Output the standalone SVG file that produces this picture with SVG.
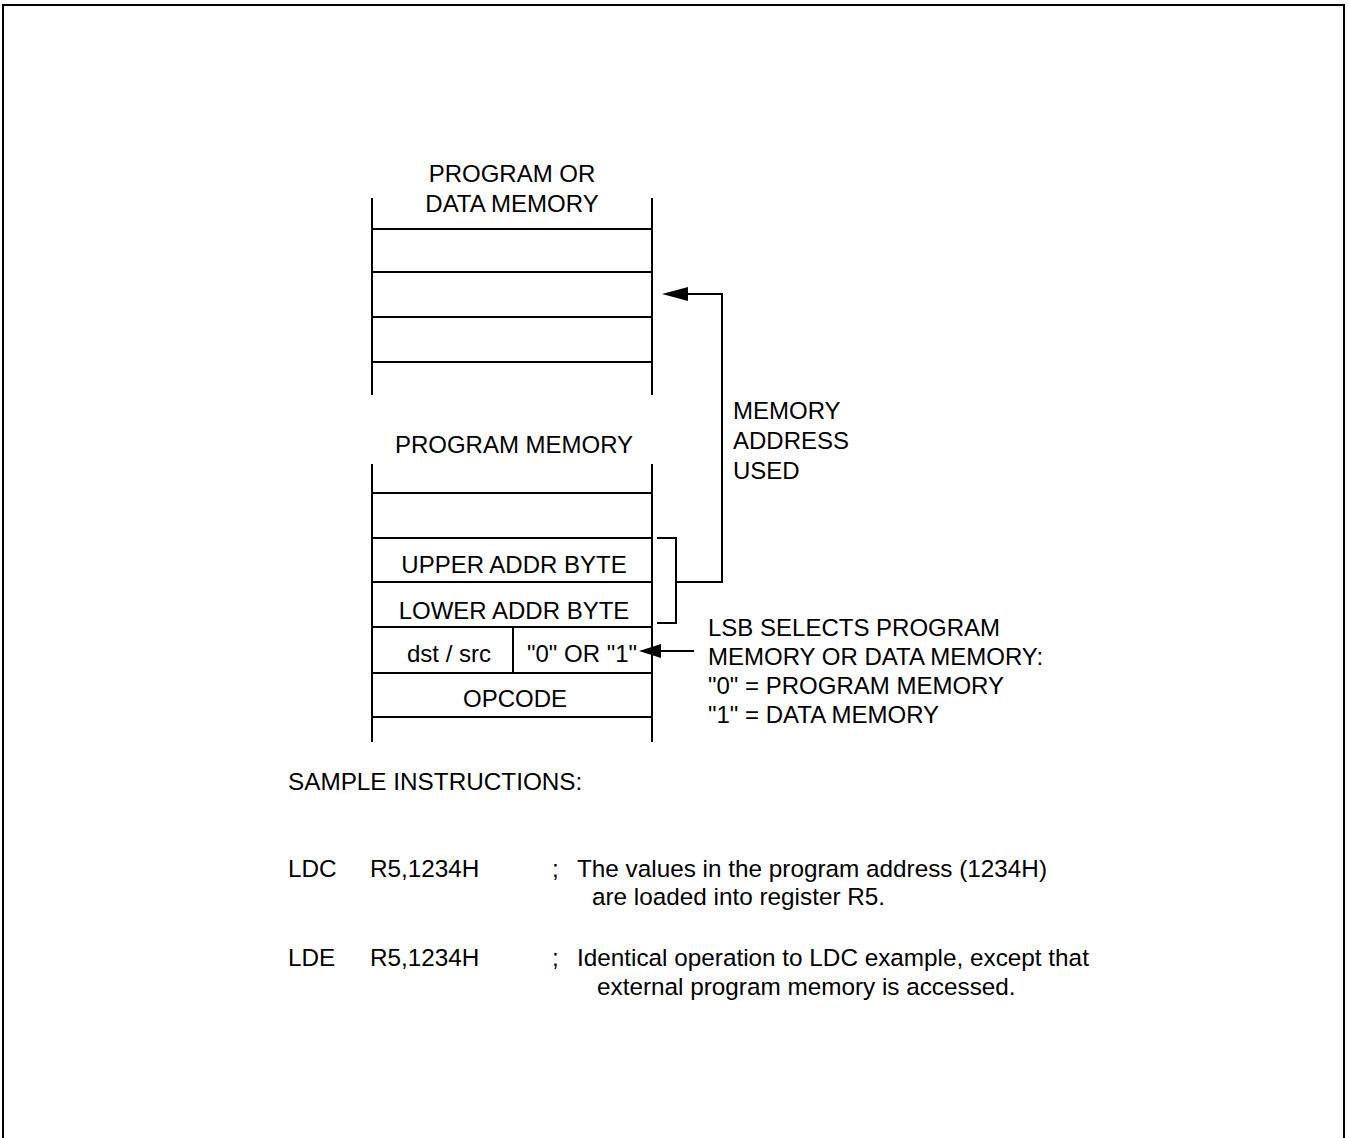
<svg xmlns="http://www.w3.org/2000/svg" width="1348" height="1138" viewBox="0 0 1348 1138">
<style>
.ln{stroke:#000;stroke-width:2;fill:none}
.t{font-family:"Liberation Sans",Arial,sans-serif;font-size:24px;fill:#000}
.s{font-size:24.3px}
.c{text-anchor:middle}
</style>
<rect x="0" y="0" width="1348" height="1138" fill="#fff"/>
<g id="frame">
<path class="ln" d="M3,1138 V5 H1344 V1138"/>
</g>
<g id="data-memory">
<text class="t c" x="512" y="182">PROGRAM OR</text>
<text class="t c" x="512" y="212">DATA MEMORY</text>
<path class="ln" d="M372,198 V395 M652,198 V395 M372,229 H652 M372,272 H652 M372,317 H652 M372,362 H652"/>
</g>
<g id="program-memory">
<text class="t c" x="514" y="453">PROGRAM MEMORY</text>
<path class="ln" d="M372,464 V742 M652,464 V742 M372,493 H652 M372,538 H652 M372,582 H652 M372,627 H652 M372,673 H652 M372,717 H652 M513,627 V673"/>
<text class="t c" x="514" y="573">UPPER ADDR BYTE</text>
<text class="t c" x="514" y="619">LOWER ADDR BYTE</text>
<text class="t c" x="449" y="662">dst / src</text>
<text class="t c" x="582" y="662">"0" OR "1"</text>
<text class="t c" x="515" y="707">OPCODE</text>
</g>
<g id="labels">
<text class="t" x="733" y="419">MEMORY</text>
<text class="t" x="733" y="449">ADDRESS</text>
<text class="t" x="733" y="479">USED</text>
<text class="t" x="708" y="636">LSB SELECTS PROGRAM</text>
<text class="t" x="708" y="665">MEMORY OR DATA MEMORY:</text>
<text class="t" x="708" y="694">"0" = PROGRAM MEMORY</text>
<text class="t" x="708" y="723">"1" = DATA MEMORY</text>
</g>
<g id="connectors">
<path class="ln" d="M657,538 H676 V623 H657 M676,582 H722 V294 H684"/>
<polygon points="662,294 688,287 688,301" fill="#000"/>
<path class="ln" d="M694,651 H656"/>
<polygon points="639,651 661,644 661,658" fill="#000"/>
</g>
<g id="samples">
<text class="t s" x="288" y="790">SAMPLE INSTRUCTIONS:</text>
<text class="t s" x="288" y="877">LDC</text>
<text class="t s" x="370" y="877">R5,1234H</text>
<text class="t s" x="552" y="877">;</text>
<text class="t s" x="577" y="877">The values in the program address (1234H)</text>
<text class="t s" x="592" y="905">are loaded into register R5.</text>
<text class="t s" x="288" y="966">LDE</text>
<text class="t s" x="370" y="966">R5,1234H</text>
<text class="t s" x="552" y="966">;</text>
<text class="t s" x="577" y="966">Identical operation to LDC example, except that</text>
<text class="t s" x="597" y="995">external program memory is accessed.</text>
</g>
</svg>
